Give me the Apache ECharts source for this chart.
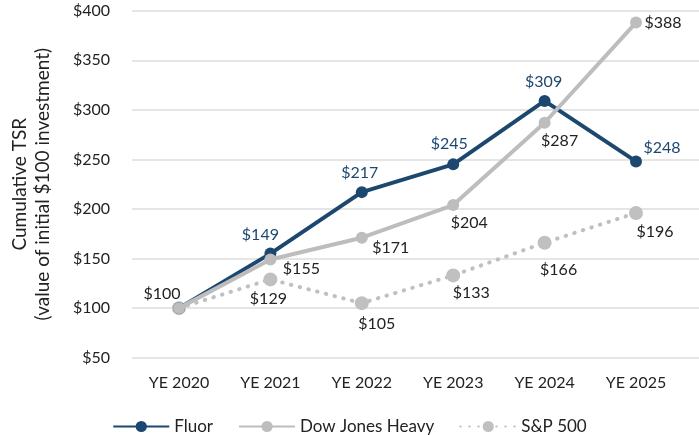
<!DOCTYPE html>
<html>
<head>
<meta charset="utf-8">
<script src="https://cdn.jsdelivr.net/npm/echarts@6/dist/echarts.min.js"></script>
<style>html,body{margin:0;padding:0;background:#fff;}#c{width:699px;height:435px;}</style>
</head>
<body>
<div id="c"></div>
<script>
var categories = ['YE 2020', 'YE 2021', 'YE 2022', 'YE 2023', 'YE 2024', 'YE 2025'];
var fluorValues = [100, 155, 217, 245, 309, 248];
var dowValues = [100, 149, 171, 204, 287, 388];
var spValues = [100, 129, 105, 133, 166, 196];
var fluorLabels = ['', '$149', '$217', '$245', '$309', '$248'];
var dowLabels = ['$100', '$155', '$171', '$204', '$287', '$388'];
var spLabels = ['', '$129', '$105', '$133', '$166', '$196'];
var yTicks = [50, 100, 150, 200, 250, 300, 350, 400];

var FONT = 'Lato';
var NAVY = '#1c4870';
var GRAY = '#bdbdbd';
var SPGRAY = '#c0c0c0';

var fluorOffsets = [[0,0],[-10,-19],[-2,-19],[-4,-21],[-1,-19],[26,-14]];
var dowOffsets = [[-17,-14],[31,9],[29,10],[16,18],[15,18],[27,0]];
var spOffsets = [[0,0],[-2,19],[15,21],[18,17],[14,27],[19,19]];

function build(values, labels, offsets, color) {
  return values.map(function (v, i) {
    return {
      value: v,
      label: {
        show: labels[i] !== '',
        formatter: labels[i],
        position: 'inside',
        offset: offsets[i],
        color: color,
        fontFamily: FONT,
        fontSize: 16
      }
    };
  });
}

var chart = echarts.init(document.getElementById('c'));
chart.setOption({
  animation: false,
  grid: [
    {left: 118, right: 0, top: 10.7, bottom: 435 - 357.7},
    {left: 133.3, right: 17.3, top: 10.7, bottom: 435 - 357.7}
  ],
  xAxis: [
    {gridIndex: 0, type: 'category', data: categories, show: false},
    {gridIndex: 1, type: 'category', data: categories, boundaryGap: true,
     axisLine: {show: false}, axisTick: {show: false},
     axisLabel: {color: '#222', fontFamily: FONT, fontSize: 16, margin: 17}}
  ],
  yAxis: [
    {gridIndex: 0, type: 'value', min: yTicks[0], max: yTicks[yTicks.length - 1], interval: 50,
     axisLine: {show: false}, axisTick: {show: false},
     axisLabel: {color: '#222', fontFamily: FONT, fontSize: 16, margin: 22,
       formatter: function (v) { return '$' + v; }},
     splitLine: {lineStyle: {color: '#dcdcdc', width: 1.5}},
     name: 'Cumulative TSR\n(value of initial $100 investment)',
     nameLocation: 'middle', nameGap: 78, nameRotate: 90,
     nameTextStyle: {color: '#222', fontFamily: FONT, fontSize: 19, lineHeight: 23}},
    {gridIndex: 1, type: 'value', min: yTicks[0], max: yTicks[yTicks.length - 1], interval: 50, show: false,
     splitLine: {show: false}}
  ],
  legend: {
    data: ['Fluor', 'Dow Jones Heavy', 'S&P 500'],
    top: 413, left: 'center',
    itemWidth: 56, itemHeight: 14, itemGap: 25,
    textStyle: {color: '#222', fontFamily: FONT, fontSize: 17}
  },
  series: [
    {
      name: 'Fluor', type: 'line', xAxisIndex: 1, yAxisIndex: 1, z: 3,
      data: build(fluorValues, fluorLabels, fluorOffsets, NAVY),
      symbol: 'circle', symbolSize: 12,
      itemStyle: {color: NAVY},
      lineStyle: {color: NAVY, width: 4}
    },
    {
      name: 'Dow Jones Heavy', type: 'line', xAxisIndex: 1, yAxisIndex: 1, z: 4,
      data: build(dowValues, dowLabels, dowOffsets, '#222'),
      symbol: 'circle', symbolSize: 12,
      itemStyle: {color: GRAY},
      lineStyle: {color: GRAY, width: 4}
    },
    {
      name: 'S&P 500', type: 'line', xAxisIndex: 1, yAxisIndex: 1, z: 2,
      data: build(spValues, spLabels, spOffsets, '#222'),
      symbol: 'circle', symbolSize: 14,
      itemStyle: {color: SPGRAY},
      lineStyle: {color: SPGRAY, width: 4, type: [0.5, 8.5], cap: 'round'}
    }
  ]
});
</script>
</body>
</html>
